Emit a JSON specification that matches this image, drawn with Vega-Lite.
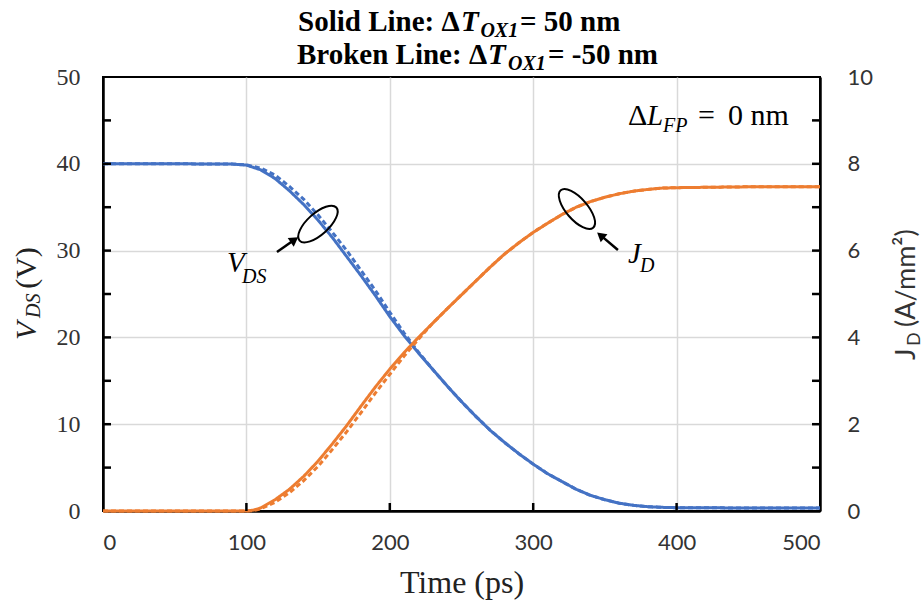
{
  "$schema": "https://vega.github.io/schema/vega-lite/v6.json",
  "width": 717,
  "height": 434,
  "autosize": {"type": "none"},
  "padding": {"left": 103, "top": 77, "right": 103, "bottom": 98},
  "background": "white",
  "config": {
    "view": {"stroke": "black", "strokeWidth": 2},
    "axis": {
      "domainColor": "black",
      "domainWidth": 2.5,
      "ticks": false,
      "gridColor": "#d9d9d9",
      "gridWidth": 1.5,
      "labelColor": "#333333"
    }
  },
  "datasets": {
    "vds": [
      {"time": 0, "vds": 40, "case": "+50 nm"}, {"time": 50, "vds": 40, "case": "+50 nm"},
      {"time": 90, "vds": 39.97, "case": "+50 nm"}, {"time": 100, "vds": 39.85, "case": "+50 nm"},
      {"time": 110, "vds": 39.3, "case": "+50 nm"}, {"time": 120, "vds": 38.3, "case": "+50 nm"},
      {"time": 130, "vds": 36.9, "case": "+50 nm"}, {"time": 140, "vds": 35.3, "case": "+50 nm"},
      {"time": 150, "vds": 33.5, "case": "+50 nm"}, {"time": 160, "vds": 31.5, "case": "+50 nm"},
      {"time": 170, "vds": 29.3, "case": "+50 nm"}, {"time": 180, "vds": 27.1, "case": "+50 nm"},
      {"time": 190, "vds": 24.8, "case": "+50 nm"}, {"time": 200, "vds": 22.4, "case": "+50 nm"},
      {"time": 210, "vds": 20.2, "case": "+50 nm"}, {"time": 220, "vds": 18.2, "case": "+50 nm"},
      {"time": 230, "vds": 16.3, "case": "+50 nm"}, {"time": 240, "vds": 14.4, "case": "+50 nm"},
      {"time": 250, "vds": 12.6, "case": "+50 nm"}, {"time": 260, "vds": 10.9, "case": "+50 nm"},
      {"time": 270, "vds": 9.3, "case": "+50 nm"}, {"time": 280, "vds": 7.9, "case": "+50 nm"},
      {"time": 290, "vds": 6.6, "case": "+50 nm"}, {"time": 300, "vds": 5.4, "case": "+50 nm"},
      {"time": 310, "vds": 4.3, "case": "+50 nm"}, {"time": 320, "vds": 3.4, "case": "+50 nm"},
      {"time": 330, "vds": 2.5, "case": "+50 nm"}, {"time": 340, "vds": 1.8, "case": "+50 nm"},
      {"time": 350, "vds": 1.3, "case": "+50 nm"}, {"time": 360, "vds": 0.9, "case": "+50 nm"},
      {"time": 370, "vds": 0.65, "case": "+50 nm"}, {"time": 380, "vds": 0.5, "case": "+50 nm"},
      {"time": 390, "vds": 0.42, "case": "+50 nm"}, {"time": 400, "vds": 0.38, "case": "+50 nm"},
      {"time": 450, "vds": 0.35, "case": "+50 nm"}, {"time": 500, "vds": 0.35, "case": "+50 nm"},
      {"time": 0, "vds": 40, "case": "-50 nm"}, {"time": 50, "vds": 40, "case": "-50 nm"},
      {"time": 90, "vds": 39.97, "case": "-50 nm"}, {"time": 100, "vds": 39.88, "case": "-50 nm"},
      {"time": 110, "vds": 39.5, "case": "-50 nm"}, {"time": 120, "vds": 38.7, "case": "-50 nm"},
      {"time": 130, "vds": 37.4, "case": "-50 nm"}, {"time": 140, "vds": 35.9, "case": "-50 nm"},
      {"time": 150, "vds": 34.1, "case": "-50 nm"}, {"time": 160, "vds": 32.1, "case": "-50 nm"},
      {"time": 170, "vds": 30.0, "case": "-50 nm"}, {"time": 180, "vds": 27.7, "case": "-50 nm"},
      {"time": 190, "vds": 25.4, "case": "-50 nm"}, {"time": 200, "vds": 22.9, "case": "-50 nm"},
      {"time": 210, "vds": 20.5, "case": "-50 nm"}, {"time": 220, "vds": 18.3, "case": "-50 nm"},
      {"time": 230, "vds": 16.3, "case": "-50 nm"}, {"time": 240, "vds": 14.4, "case": "-50 nm"},
      {"time": 250, "vds": 12.6, "case": "-50 nm"}, {"time": 260, "vds": 10.9, "case": "-50 nm"},
      {"time": 270, "vds": 9.3, "case": "-50 nm"}, {"time": 280, "vds": 7.9, "case": "-50 nm"},
      {"time": 290, "vds": 6.6, "case": "-50 nm"}, {"time": 300, "vds": 5.4, "case": "-50 nm"},
      {"time": 310, "vds": 4.3, "case": "-50 nm"}, {"time": 320, "vds": 3.4, "case": "-50 nm"},
      {"time": 330, "vds": 2.5, "case": "-50 nm"}, {"time": 340, "vds": 1.8, "case": "-50 nm"},
      {"time": 350, "vds": 1.3, "case": "-50 nm"}, {"time": 360, "vds": 0.9, "case": "-50 nm"},
      {"time": 370, "vds": 0.65, "case": "-50 nm"}, {"time": 380, "vds": 0.5, "case": "-50 nm"},
      {"time": 390, "vds": 0.42, "case": "-50 nm"}, {"time": 400, "vds": 0.38, "case": "-50 nm"},
      {"time": 450, "vds": 0.35, "case": "-50 nm"}, {"time": 500, "vds": 0.35, "case": "-50 nm"}
    ],
    "jd": [
      {"time": 0, "jd": 0, "case": "+50 nm"}, {"time": 100, "jd": 0, "case": "+50 nm"},
      {"time": 105, "jd": 0.02, "case": "+50 nm"}, {"time": 110, "jd": 0.07, "case": "+50 nm"},
      {"time": 120, "jd": 0.26, "case": "+50 nm"}, {"time": 130, "jd": 0.5, "case": "+50 nm"},
      {"time": 140, "jd": 0.8, "case": "+50 nm"}, {"time": 150, "jd": 1.15, "case": "+50 nm"},
      {"time": 160, "jd": 1.55, "case": "+50 nm"}, {"time": 170, "jd": 1.97, "case": "+50 nm"},
      {"time": 180, "jd": 2.42, "case": "+50 nm"}, {"time": 190, "jd": 2.86, "case": "+50 nm"},
      {"time": 200, "jd": 3.27, "case": "+50 nm"}, {"time": 210, "jd": 3.65, "case": "+50 nm"},
      {"time": 220, "jd": 4.0, "case": "+50 nm"}, {"time": 230, "jd": 4.33, "case": "+50 nm"},
      {"time": 240, "jd": 4.66, "case": "+50 nm"}, {"time": 250, "jd": 4.98, "case": "+50 nm"},
      {"time": 260, "jd": 5.3, "case": "+50 nm"}, {"time": 270, "jd": 5.62, "case": "+50 nm"},
      {"time": 280, "jd": 5.92, "case": "+50 nm"}, {"time": 290, "jd": 6.18, "case": "+50 nm"},
      {"time": 300, "jd": 6.42, "case": "+50 nm"}, {"time": 310, "jd": 6.63, "case": "+50 nm"},
      {"time": 320, "jd": 6.83, "case": "+50 nm"}, {"time": 330, "jd": 7.0, "case": "+50 nm"},
      {"time": 340, "jd": 7.13, "case": "+50 nm"}, {"time": 350, "jd": 7.23, "case": "+50 nm"},
      {"time": 360, "jd": 7.31, "case": "+50 nm"}, {"time": 370, "jd": 7.37, "case": "+50 nm"},
      {"time": 380, "jd": 7.41, "case": "+50 nm"}, {"time": 390, "jd": 7.44, "case": "+50 nm"},
      {"time": 400, "jd": 7.45, "case": "+50 nm"}, {"time": 450, "jd": 7.47, "case": "+50 nm"},
      {"time": 500, "jd": 7.47, "case": "+50 nm"},
      {"time": 0, "jd": 0, "case": "-50 nm"}, {"time": 100, "jd": 0, "case": "-50 nm"},
      {"time": 105, "jd": 0.01, "case": "-50 nm"}, {"time": 110, "jd": 0.05, "case": "-50 nm"},
      {"time": 120, "jd": 0.2, "case": "-50 nm"}, {"time": 130, "jd": 0.42, "case": "-50 nm"},
      {"time": 140, "jd": 0.7, "case": "-50 nm"}, {"time": 150, "jd": 1.03, "case": "-50 nm"},
      {"time": 160, "jd": 1.42, "case": "-50 nm"}, {"time": 170, "jd": 1.83, "case": "-50 nm"},
      {"time": 180, "jd": 2.27, "case": "-50 nm"}, {"time": 190, "jd": 2.72, "case": "-50 nm"},
      {"time": 200, "jd": 3.15, "case": "-50 nm"}, {"time": 210, "jd": 3.57, "case": "-50 nm"},
      {"time": 220, "jd": 3.96, "case": "-50 nm"}, {"time": 230, "jd": 4.33, "case": "-50 nm"},
      {"time": 240, "jd": 4.66, "case": "-50 nm"}, {"time": 250, "jd": 4.98, "case": "-50 nm"},
      {"time": 260, "jd": 5.3, "case": "-50 nm"}, {"time": 270, "jd": 5.62, "case": "-50 nm"},
      {"time": 280, "jd": 5.92, "case": "-50 nm"}, {"time": 290, "jd": 6.18, "case": "-50 nm"},
      {"time": 300, "jd": 6.42, "case": "-50 nm"}, {"time": 310, "jd": 6.63, "case": "-50 nm"},
      {"time": 320, "jd": 6.83, "case": "-50 nm"}, {"time": 330, "jd": 7.0, "case": "-50 nm"},
      {"time": 340, "jd": 7.13, "case": "-50 nm"}, {"time": 350, "jd": 7.23, "case": "-50 nm"},
      {"time": 360, "jd": 7.31, "case": "-50 nm"}, {"time": 370, "jd": 7.37, "case": "-50 nm"},
      {"time": 380, "jd": 7.41, "case": "-50 nm"}, {"time": 390, "jd": 7.44, "case": "-50 nm"},
      {"time": 400, "jd": 7.45, "case": "-50 nm"}, {"time": 450, "jd": 7.47, "case": "-50 nm"},
      {"time": 500, "jd": 7.47, "case": "-50 nm"}
    ],
    "leftTicks": [
      {"time": 0, "v": 5}, {"time": 0, "v": 10}, {"time": 0, "v": 15}, {"time": 0, "v": 20}, {"time": 0, "v": 25},
      {"time": 0, "v": 30}, {"time": 0, "v": 35}, {"time": 0, "v": 40}, {"time": 0, "v": 45}
    ],
    "rightTicks": [
      {"time": 500, "v": 5}, {"time": 500, "v": 10}, {"time": 500, "v": 15}, {"time": 500, "v": 20}, {"time": 500, "v": 25},
      {"time": 500, "v": 30}, {"time": 500, "v": 35}, {"time": 500, "v": 40}, {"time": 500, "v": 45}
    ],
    "bottomTicks": [
      {"time": 100, "v": 0}, {"time": 200, "v": 0}, {"time": 300, "v": 0}, {"time": 400, "v": 0}
    ],
    "titleBold": [
      {"time": 136.0, "v": 55.3, "text": "Solid Line: Δ"},
      {"time": 290.8, "v": 55.3, "text": "= 50 nm"},
      {"time": 135.3, "v": 51.5, "text": "Broken Line: Δ"},
      {"time": 310.3, "v": 51.5, "text": "= -50 nm"}
    ],
    "titleBoldItalic": [
      {"time": 249.7, "v": 55.3, "text": "T"},
      {"time": 268.5, "v": 51.5, "text": "T"}
    ],
    "titleBoldSub": [
      {"time": 263.2, "v": 54.6, "text": "OX1"},
      {"time": 282.4, "v": 50.75, "text": "OX1"}
    ],
    "noteUpright": [
      {"time": 366.1, "v": 44.47, "text": "Δ"},
      {"time": 414.9, "v": 44.47, "text": "="},
      {"time": 435.8, "v": 44.47, "text": "0 nm"}
    ],
    "noteItalic": [
      {"time": 379.4, "v": 44.47, "text": "L"},
      {"time": 86.5, "v": 27.53, "text": "V"},
      {"time": 366.1, "v": 28.57, "text": "J"}
    ],
    "noteSub": [
      {"time": 390.5, "v": 43.66, "text": "FP"},
      {"time": 96.9, "v": 26.27, "text": "DS"},
      {"time": 374.5, "v": 27.53, "text": "D"}
    ],
    "ellipses": [
      {"time": 149.9, "v": 33.06, "tilt": -42},
      {"time": 330.5, "v": 34.79, "tilt": 49}
    ],
    "arrowShafts": [
      {"time": 121.3, "v": 29.84, "time2": 133.0, "v2": 31.2},
      {"time": 359.1, "v": 30.07, "time2": 347.5, "v2": 31.7}
    ],
    "arrowHeads": [
      {"time": 133.5, "v": 31.25, "heading": 55},
      {"time": 347.0, "v": 31.75, "heading": -50}
    ],
    "leftTitleItalic": [{"time": -46.7, "v": 19.7, "text": "V"}],
    "leftTitleSub": [{"time": -43.9, "v": 22.24, "text": "DS"}],
    "leftTitleUpright": [{"time": -46.7, "v": 25.6, "text": "(V)"}],
    "rightTitleMain": [
      {"time": 566.2, "v": 17.4, "text": "J"},
      {"time": 566.2, "v": 21.2, "text": "(A/mm²)"}
    ],
    "rightTitleSub": [{"time": 569.7, "v": 19.01, "text": "D"}]
  },
  "encoding": {
    "x": {
      "field": "time",
      "type": "quantitative",
      "scale": {"domain": [0, 500], "nice": false}
    }
  },
  "layer": [
    {
      "data": {"name": "vds"},
      "mark": {"type": "line", "color": "#4472C4", "strokeWidth": 3},
      "encoding": {
        "x": {
          "field": "time",
          "type": "quantitative",
          "scale": {"domain": [0, 500], "nice": false},
          "axis": {
            "values": [0, 100, 200, 300, 400, 500],
            "labelFont": "Lato",
            "labelFontSize": 22,
            "labelPadding": 21,
            "title": "Time (ps)",
            "titleFont": "Liberation Serif",
            "titleFontSize": 32,
            "titleFontWeight": "normal",
            "titleColor": "#222222",
            "titlePadding": 14,
            "gridOpacity": {"condition": {"test": "datum.value === 0 || datum.value === 500", "value": 0}, "value": 1}
          }
        },
        "y": {
          "field": "vds",
          "type": "quantitative",
          "scale": {"domain": [0, 50], "nice": false},
          "axis": {
            "values": [0, 10, 20, 30, 40, 50],
            "labelFont": "Liberation Serif",
            "labelFontSize": 24,
            "labelPadding": 23,
            "title": null,
            "gridOpacity": {"condition": {"test": "datum.value === 0 || datum.value === 50", "value": 0}, "value": 1}
          }
        },
        "strokeDash": {
          "field": "case",
          "type": "nominal",
          "scale": {"domain": ["+50 nm", "-50 nm"], "range": [[1, 0], [5, 3]]},
          "legend": null
        }
      }
    },
    {
      "data": {"name": "jd"},
      "mark": {"type": "line", "color": "#ED7D31", "strokeWidth": 3},
      "encoding": {
        "y": {
          "field": "jd",
          "type": "quantitative",
          "scale": {"domain": [0, 10], "nice": false},
          "axis": {
            "orient": "right",
            "values": [0, 2, 4, 6, 8, 10],
            "grid": false,
            "labelFont": "Lato",
            "labelFontSize": 22,
            "labelPadding": 27,
            "title": null
          }
        },
        "strokeDash": {"field": "case", "type": "nominal", "legend": null}
      }
    },
    {
      "data": {"name": "leftTicks"},
      "mark": {"type": "tick", "orient": "horizontal", "color": "black", "size": 8, "thickness": 2.5, "xOffset": 4, "opacity": 1},
      "encoding": {
        "y": {"field": "v", "type": "quantitative", "scale": {"domain": [0, 50], "nice": false}, "axis": null}
      }
    },
    {
      "data": {"name": "rightTicks"},
      "mark": {"type": "tick", "orient": "horizontal", "color": "black", "size": 8, "thickness": 2.5, "xOffset": -4, "opacity": 1},
      "encoding": {
        "y": {"field": "v", "type": "quantitative", "scale": {"domain": [0, 50], "nice": false}, "axis": null}
      }
    },
    {
      "data": {"name": "bottomTicks"},
      "mark": {"type": "tick", "orient": "vertical", "color": "black", "size": 8, "thickness": 2.5, "yOffset": -4, "opacity": 1},
      "encoding": {
        "y": {"field": "v", "type": "quantitative", "scale": {"domain": [0, 50], "nice": false}, "axis": null}
      }
    },
    {
      "data": {"name": "ellipses"},
      "mark": {
        "type": "point",
        "shape": "M-1,0A1,0.43,0,1,1,1,0A1,0.43,0,1,1,-1,0Z",
        "filled": false,
        "stroke": "black",
        "strokeWidth": 2,
        "size": 2450,
        "opacity": 1
      },
      "encoding": {
        "y": {"field": "v", "type": "quantitative", "scale": {"domain": [0, 50], "nice": false}, "axis": null},
        "angle": {"field": "tilt", "type": "quantitative", "scale": null}
      }
    },
    {
      "data": {"name": "arrowShafts"},
      "mark": {"type": "rule", "color": "black", "strokeWidth": 2.5},
      "encoding": {
        "y": {"field": "v", "type": "quantitative", "scale": {"domain": [0, 50], "nice": false}, "axis": null},
        "x2": {"field": "time2"},
        "y2": {"field": "v2"}
      }
    },
    {
      "data": {"name": "arrowHeads"},
      "mark": {"type": "point", "shape": "triangle-up", "filled": true, "color": "black", "size": 110, "opacity": 1},
      "encoding": {
        "y": {"field": "v", "type": "quantitative", "scale": {"domain": [0, 50], "nice": false}, "axis": null},
        "angle": {"field": "heading", "type": "quantitative", "scale": null}
      }
    },
    {
      "data": {"name": "titleBold"},
      "mark": {"type": "text", "font": "Liberation Serif", "fontSize": 29, "fontWeight": "bold", "align": "left", "baseline": "alphabetic", "color": "black"},
      "encoding": {
        "y": {"field": "v", "type": "quantitative", "scale": {"domain": [0, 50], "nice": false}, "axis": null},
        "text": {"field": "text"}
      }
    },
    {
      "data": {"name": "titleBoldItalic"},
      "mark": {"type": "text", "font": "Liberation Serif", "fontSize": 29, "fontWeight": "bold", "fontStyle": "italic", "align": "left", "baseline": "alphabetic", "color": "black"},
      "encoding": {
        "y": {"field": "v", "type": "quantitative", "scale": {"domain": [0, 50], "nice": false}, "axis": null},
        "text": {"field": "text"}
      }
    },
    {
      "data": {"name": "titleBoldSub"},
      "mark": {"type": "text", "font": "Liberation Serif", "fontSize": 20, "fontWeight": "bold", "fontStyle": "italic", "align": "left", "baseline": "alphabetic", "color": "black"},
      "encoding": {
        "y": {"field": "v", "type": "quantitative", "scale": {"domain": [0, 50], "nice": false}, "axis": null},
        "text": {"field": "text"}
      }
    },
    {
      "data": {"name": "noteUpright"},
      "mark": {"type": "text", "font": "Liberation Serif", "fontSize": 30, "align": "left", "baseline": "alphabetic", "color": "black"},
      "encoding": {
        "y": {"field": "v", "type": "quantitative", "scale": {"domain": [0, 50], "nice": false}, "axis": null},
        "text": {"field": "text"}
      }
    },
    {
      "data": {"name": "noteItalic"},
      "mark": {"type": "text", "font": "Liberation Serif", "fontSize": 29, "fontStyle": "italic", "align": "left", "baseline": "alphabetic", "color": "black"},
      "encoding": {
        "y": {"field": "v", "type": "quantitative", "scale": {"domain": [0, 50], "nice": false}, "axis": null},
        "text": {"field": "text"}
      }
    },
    {
      "data": {"name": "noteSub"},
      "mark": {"type": "text", "font": "Liberation Serif", "fontSize": 20, "fontStyle": "italic", "align": "left", "baseline": "alphabetic", "color": "black"},
      "encoding": {
        "y": {"field": "v", "type": "quantitative", "scale": {"domain": [0, 50], "nice": false}, "axis": null},
        "text": {"field": "text"}
      }
    },
    {
      "data": {"name": "leftTitleItalic"},
      "mark": {"type": "text", "font": "Liberation Serif", "fontSize": 30, "fontStyle": "italic", "angle": 270, "align": "left", "baseline": "alphabetic", "color": "#222222"},
      "encoding": {
        "y": {"field": "v", "type": "quantitative", "scale": {"domain": [0, 50], "nice": false}, "axis": null},
        "text": {"field": "text"}
      }
    },
    {
      "data": {"name": "leftTitleSub"},
      "mark": {"type": "text", "font": "Liberation Serif", "fontSize": 20, "fontStyle": "italic", "angle": 270, "align": "left", "baseline": "alphabetic", "color": "#222222"},
      "encoding": {
        "y": {"field": "v", "type": "quantitative", "scale": {"domain": [0, 50], "nice": false}, "axis": null},
        "text": {"field": "text"}
      }
    },
    {
      "data": {"name": "leftTitleUpright"},
      "mark": {"type": "text", "font": "Liberation Serif", "fontSize": 30, "angle": 270, "align": "left", "baseline": "alphabetic", "color": "#222222"},
      "encoding": {
        "y": {"field": "v", "type": "quantitative", "scale": {"domain": [0, 50], "nice": false}, "axis": null},
        "text": {"field": "text"}
      }
    },
    {
      "data": {"name": "rightTitleMain"},
      "mark": {"type": "text", "font": "Lato", "fontSize": 27, "angle": 270, "align": "left", "baseline": "alphabetic", "color": "#333333"},
      "encoding": {
        "y": {"field": "v", "type": "quantitative", "scale": {"domain": [0, 50], "nice": false}, "axis": null},
        "text": {"field": "text"}
      }
    },
    {
      "data": {"name": "rightTitleSub"},
      "mark": {"type": "text", "font": "Lato", "fontSize": 18, "angle": 270, "align": "left", "baseline": "alphabetic", "color": "#333333"},
      "encoding": {
        "y": {"field": "v", "type": "quantitative", "scale": {"domain": [0, 50], "nice": false}, "axis": null},
        "text": {"field": "text"}
      }
    }
  ],
  "resolve": {"scale": {"y": "independent"}}
}
